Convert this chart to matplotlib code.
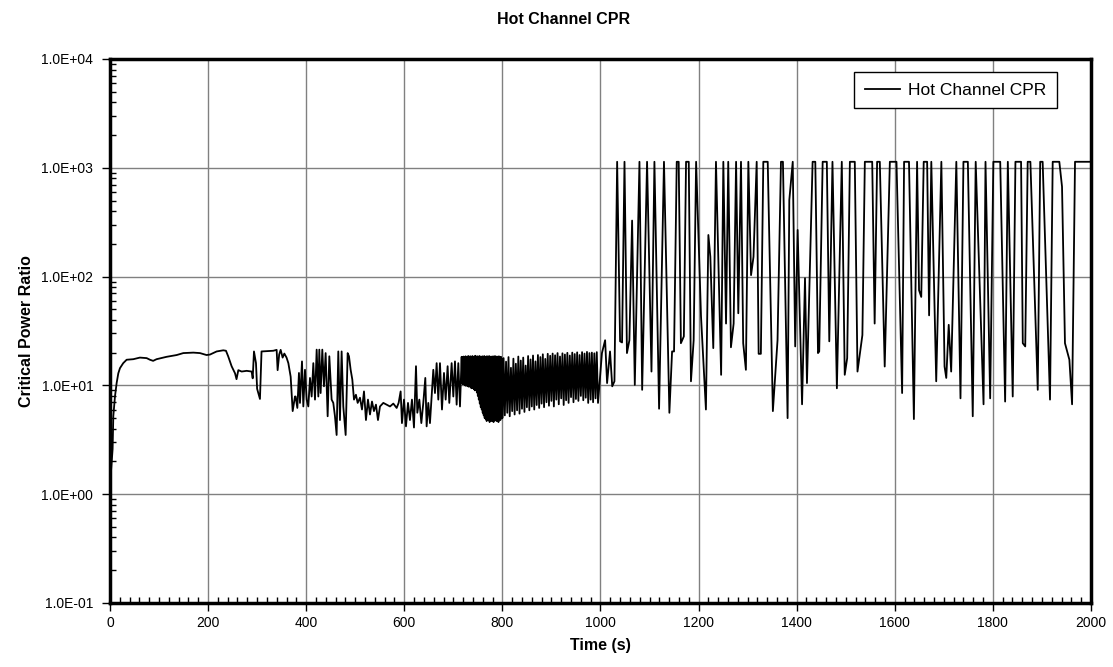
import numpy as np
import matplotlib
matplotlib.use("Agg")
import matplotlib.pyplot as plt
from matplotlib.ticker import FuncFormatter, LogLocator, MultipleLocator

plt.rcParams['font.family'] = ['Liberation Sans', 'DejaVu Sans']

# start-up and plateau (s, CPR)
t_startup = [0, 2, 5.4, 6.8, 10.2, 13.6, 17, 20.4, 27, 34, 47.6, 61, 74.8, 81.5, 88, 95,
             115.5, 136, 149.5, 170, 183.5, 197, 204, 217.5, 231, 236.5, 241, 248, 255,
             258, 261.7, 268.5, 278.7, 288.8, 291, 293.6, 297.7, 300, 305.8, 309, 333,
             339.8, 341.8, 345, 348, 352, 355.5, 360, 363.7, 368.4, 372.5, 377.2]
cpr_startup = [1.0, 1.6, 2.6, 5.2, 7.9, 10.5, 12.9, 14.4, 16.0, 17.2, 17.4, 18.0, 17.8,
               17.2, 16.8, 17.4, 18.3, 19.0, 19.8, 20.0, 19.8, 19.0, 19.2, 20.5, 21.0,
               20.8, 18.5, 15.0, 12.9, 11.4, 13.8, 13.4, 13.6, 13.4, 11.6, 20.5, 16.0,
               9.3, 7.5, 20.5, 20.8, 21.2, 13.8, 19.2, 21.2, 18.0, 19.6, 18.0, 16.0,
               12.0, 5.8, 7.9]

# noisy low-flow period
t_noisy = [378.5, 382, 385.3, 387.4, 391.5, 394.2, 397.6, 401, 404.4, 407.8, 411.2,
           414.6, 418, 421.4, 424.8, 426.8, 429.5, 432.9, 436.3, 439.7, 443.8, 447.2,
           451.9, 455.3, 458.7, 462.1, 465.5, 468.9, 472.3, 475.7, 480.5, 484.6, 487.3,
           490.7, 494.1, 497.5, 501.5, 505, 509.7, 513.8, 517.9, 521.9, 526, 530.1,
           534.2, 538.2, 542.3, 546.4, 550.5, 557.3, 564.1, 570.9, 577.7, 584.5, 588.5,
           592.6, 595.3, 599.4, 603.5, 607.6, 611.6, 615.7, 619.8, 623.9, 626.6, 630.7,
           634.8, 638.8, 642.9, 645.6, 649, 652.4, 655.8, 659.2, 662.6, 666, 669.4,
           672.8, 676.9, 681, 684.4, 688.4, 691.8, 696.6, 700, 703.4, 706.8, 710.2, 713.6]
cpr_noisy = [7.9, 6.2, 13.0, 6.9, 16.6, 6.4, 13.9, 7.4, 6.4, 11.7, 7.9,
             16.0, 7.4, 21.3, 7.9, 21.3, 8.5, 21.3, 9.8, 19.8, 5.2, 18.5,
             7.4, 6.9, 5.2, 3.5, 20.5, 4.8, 20.5, 6.4, 3.5, 19.8, 18.5,
             13.9, 11.3, 7.4, 8.2, 6.9, 7.7, 6.0, 8.8, 4.8, 7.4, 5.4,
             7.1, 5.8, 6.65, 4.8, 6.4, 6.9, 6.65, 6.4, 6.8, 6.2, 6.9,
             8.8, 4.5, 7.4, 4.2, 6.9, 4.8, 7.4, 4.1, 15.0, 5.6, 7.4,
             4.5, 6.9, 11.7, 4.2, 6.9, 4.5, 7.9, 13.9, 8.5, 16.0, 7.4,
             16.0, 6.0, 13.0, 7.4, 15.0, 6.9, 16.0, 7.9, 16.6, 6.65, 16.0, 6.4]

# fast oscillation, sampled every 1 s from 717 s to 800 s
cpr_dense_a = [18.3, 10.5, 18.0, 10.2, 18.4, 10.6, 18.2, 10.0, 18.5, 9.9, 18.1, 10.3,
               18.4, 9.8, 18.6, 9.7, 18.2, 9.9, 18.5, 9.5, 18.3, 9.4, 18.6, 9.6,
               18.1, 9.2, 18.4, 9.0, 18.7, 9.1, 18.2, 8.6, 18.5, 8.0, 18.3, 7.4,
               18.6, 6.8, 18.4, 6.3, 18.2, 6.0, 18.5, 5.6, 18.3, 5.3, 18.6, 5.0,
               18.2, 4.9, 18.4, 4.7, 18.5, 5.0, 18.1, 4.8, 18.6, 4.6, 18.3, 4.9,
               18.4, 4.7, 18.2, 5.0, 18.5, 4.6, 18.3, 4.8, 18.6, 5.0, 18.1, 4.7,
               18.4, 4.9, 18.2, 4.6, 18.5, 5.1, 18.0, 4.8, 18.3, 5.2, 17.6, 5.0]
# slower oscillation, sampled every 2.5 s from 802.5 s to 995 s
cpr_dense_b = [17.8, 5.3, 16.5, 5.6, 18.2, 5.2, 14.5, 5.8, 17.6, 5.4, 15.8, 5.9,
               18.4, 5.5, 16.9, 6.1, 18.0, 5.7, 15.2, 6.3, 18.6, 5.9, 17.3, 6.4,
               18.8, 6.0, 16.6, 6.6, 19.0, 6.2, 18.2, 6.8, 19.3, 6.3, 17.5, 7.0,
               19.5, 6.5, 18.7, 7.2, 19.6, 6.4, 18.9, 7.4, 19.8, 6.7, 18.4, 7.6,
               19.7, 6.6, 19.2, 7.3, 19.9, 6.9, 18.8, 7.8, 20.0, 7.0, 19.4, 7.5,
               20.1, 7.2, 19.0, 8.0, 20.2, 7.3, 19.6, 7.7, 20.3, 6.9, 19.8, 7.4,
               20.0, 7.0, 19.7, 7.6, 20.2, 6.9]

# dryout / rewet spikes after 1000 s
t_spikes = [1003, 1009.5, 1013.5, 1019.5, 1024, 1028.5, 1034, 1040, 1044, 1049, 1054,
            1059, 1064.5, 1070, 1079.5, 1085, 1095, 1104, 1110, 1119.5, 1129.5, 1140.5,
            1146, 1150, 1155.5, 1159.5, 1164, 1170, 1174.5, 1180, 1184.5, 1190, 1195,
            1205, 1215, 1220, 1224, 1230, 1235.5, 1246, 1250.5, 1256, 1260.5, 1266,
            1271.5, 1276.5, 1281, 1286.5, 1291, 1296.5, 1301.5, 1307, 1312, 1318.5,
            1322.5, 1327, 1332, 1341, 1351.5, 1361, 1368, 1372, 1381.5, 1385, 1392,
            1397, 1402, 1411, 1417, 1421, 1432.5, 1438, 1443.5, 1446, 1453, 1461.5,
            1466.5, 1473, 1482, 1492, 1498, 1503, 1508.5, 1518.5, 1524, 1534, 1539,
            1554, 1559, 1564, 1569.5, 1579.5, 1590, 1603.5, 1615, 1619, 1629, 1639,
            1645.5, 1649.5, 1654, 1659, 1666, 1670, 1674.5, 1684.5, 1695, 1701.5, 1705,
            1710, 1715, 1725.5, 1734, 1740, 1749, 1759, 1765, 1781, 1785, 1794.5, 1801,
            1815, 1825, 1830.5, 1840.5, 1846, 1857.5, 1861, 1866, 1871, 1876.5, 1891.5,
            1896.5, 1901.5, 1916.5, 1922, 1935.5, 1941, 1947, 1956, 1961.5, 1967.5, 2000]
cpr_spikes = [19.8, 26, 10.5, 20.5, 9.8, 10.9, 1135, 25.4, 24.8, 1135, 19.8,
              26, 327, 10.1, 1135, 9.1, 1135, 13.4, 1135, 6.1, 1135, 5.6,
              20.5, 20.5, 1135, 1135, 24.4, 28.2, 1135, 1135, 10.9, 26, 1135,
              43, 6.0, 241, 152, 22, 1135, 12.5, 1135, 37, 1135, 22.4,
              37, 1135, 46, 1135, 24.4, 13.9, 1135, 103, 152, 1135,
              19.5, 19.5, 1135, 1135, 5.8, 26, 1135, 1135, 5.0, 505, 1135,
              22.8, 268, 6.7, 96.6, 10.5, 1135, 1135, 19.8, 20.5, 1135, 1135,
              25.4, 1135, 9.4, 1135, 12.5, 17.8, 1135, 1135, 13.4, 29, 1135,
              1135, 37, 1135, 1135, 14.9, 1135, 1135, 8.5, 1135, 1135, 4.9,
              1135, 75, 65, 1135, 1135, 44, 1135, 10.9, 1135, 14.9, 11.7,
              36, 13.4, 1135, 7.6, 1135, 1135, 5.2, 1135, 6.7, 1135, 7.6, 1135,
              1135, 7.1, 1135, 7.9, 1135, 1135, 24.4, 22.8, 1135, 1135, 9.1,
              1135, 1135, 7.4, 1135, 1135, 670, 24.4, 17.2, 6.7, 1135, 1135]

t_dense_a = np.arange(717, 801, 1.0)
t_dense_b = np.arange(802.5, 995.1, 2.5)

time = np.concatenate([t_startup, t_noisy, t_dense_a, t_dense_b, t_spikes])
cpr = np.concatenate([cpr_startup, cpr_noisy, cpr_dense_a, cpr_dense_b, cpr_spikes])

fig = plt.figure(figsize=(11.13, 6.67), dpi=100)
ax = fig.add_axes([0.0988, 0.096, 0.8814, 0.8156])

ax.plot(time, cpr, color='black', lw=1.3, label='Hot Channel CPR')

ax.set_yscale('log')
ax.set_xlim(0, 2000)
ax.set_ylim(0.1, 1e4)
ax.xaxis.set_major_locator(MultipleLocator(200))
ax.xaxis.set_minor_locator(MultipleLocator(20))
ax.yaxis.set_major_locator(LogLocator(base=10, numticks=10))
ax.yaxis.set_minor_locator(LogLocator(base=10, subs=np.arange(2, 10), numticks=10))
ax.yaxis.set_major_formatter(FuncFormatter(lambda v, p: f"{v:.1E}"))

ax.grid(True, which='major', color='#808080', lw=1.0)
ax.tick_params(which='major', direction='out', length=6, width=1, labelsize=10, colors='black')
ax.tick_params(axis='y', which='major', pad=6)
ax.tick_params(which='minor', direction='in', length=4, width=1)
for s in ax.spines.values():
    s.set_linewidth(2.5)

# title sits centred on the figure, not the axes
fig.text(0.506, 1 - 20 / 667, 'Hot Channel CPR', fontsize=11.5, fontweight='bold',
         ha='center', va='center')
ax.set_xlabel('Time (s)', fontsize=11.5, fontweight='bold', labelpad=6)
ax.set_ylabel('Critical Power Ratio', fontsize=11.5, fontweight='bold', labelpad=5)

leg = ax.legend(loc='upper right', bbox_to_anchor=(0.9653, 0.976), borderaxespad=0,
                fontsize=12.5, frameon=True, fancybox=False, framealpha=1,
                edgecolor='black', handlelength=2.0, handletextpad=0.5, borderpad=0.6)
leg.get_frame().set_linewidth(1.0)

fig.savefig('out.png', dpi=100)
